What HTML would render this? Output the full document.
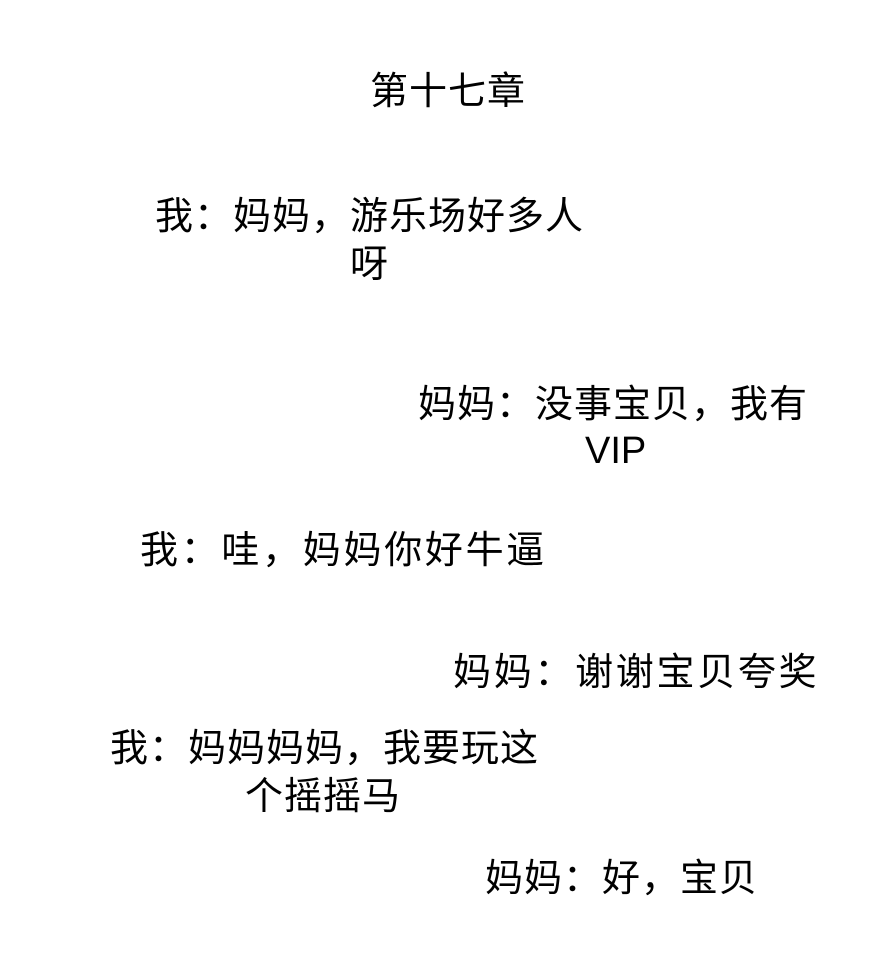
<!DOCTYPE html>
<html><head><meta charset="utf-8"><style>
body{margin:0;width:880px;height:960px;background:#fff;position:relative;overflow:hidden;font-family:"Liberation Sans","Noto Sans CJK SC",sans-serif;color:#000}
.t{position:absolute;font-size:38px;line-height:38px;white-space:nowrap;letter-spacing:1px}
</style></head><body>
<div class="t" style="left:370px;top:73px">第十七章</div>
<div class="t" style="left:155px;top:198px">我：妈妈，游乐场好多人</div>
<div class="t" style="left:350px;top:246px">呀</div>
<div class="t" style="left:418px;top:386px">妈妈：没事宝贝，我有</div>
<div class="t" style="left:585px;top:432px;letter-spacing:0">VIP</div>
<div class="t" style="left:140px;top:532px;letter-spacing:2.7px">我：哇，妈妈你好牛逼</div>
<div class="t" style="left:453px;top:654px;letter-spacing:2.7px">妈妈：谢谢宝贝夸奖</div>
<div class="t" style="left:110px;top:730px">我：妈妈妈妈，我要玩这</div>
<div class="t" style="left:245px;top:778px">个摇摇马</div>
<div class="t" style="left:485px;top:860px">妈妈：好，宝贝</div>
</body></html>
